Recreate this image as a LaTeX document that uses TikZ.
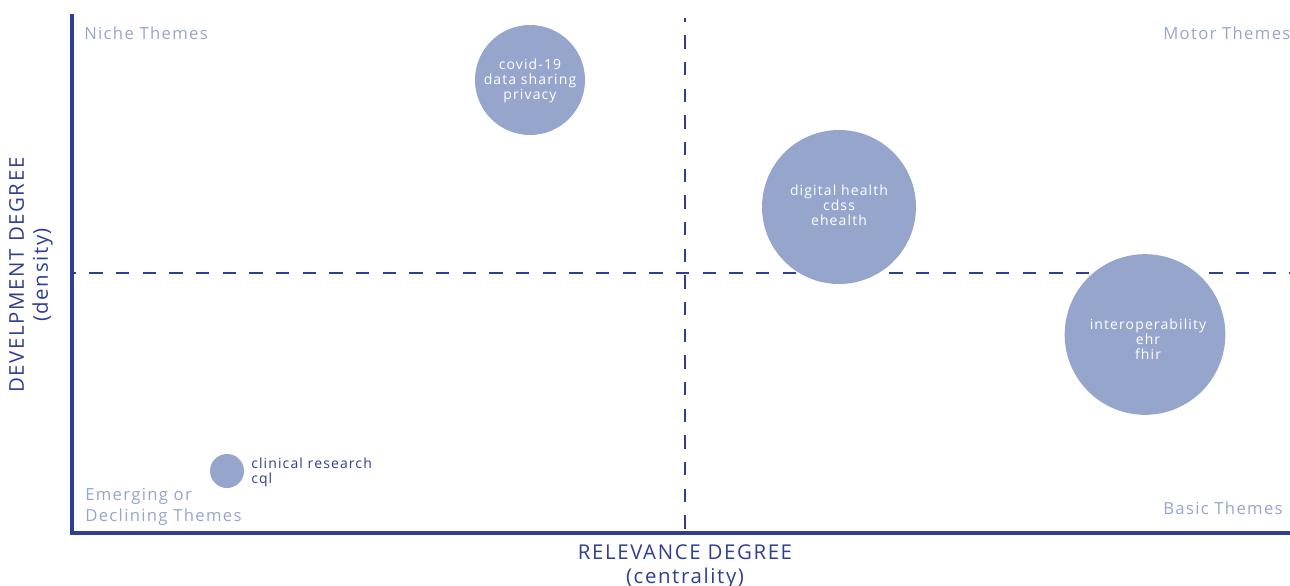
\documentclass[tikz,border=0pt]{standalone}
\usepackage{fontspec}
\setmainfont{Open Sans}[LetterSpace=8]
\definecolor{axisblue}{RGB}{48,62,145}
\definecolor{bubblefill}{RGB}{150,165,204}
\definecolor{labelblue}{RGB}{150,165,204}
\begin{document}
\begin{tikzpicture}[x=0.75pt,y=-0.75pt,
  axisline/.style={draw=axisblue,line width=2.4pt},
  quadline/.style={draw=axisblue,line width=2.1pt,dash pattern=on 10pt off 10pt,dash phase=7pt},
  bubble/.style={circle,fill=bubblefill,inner sep=0pt},
  bubbletext/.style={text=white,align=center,inner sep=0pt,font=\fontsize{10.5}{11.3}\selectfont},
  quadlabel/.style={text=labelblue,font=\fontsize{12.5}{16}\selectfont,inner sep=0pt},
  axistitle/.style={text=axisblue,align=center,font=\fontsize{15.3}{18}\selectfont,inner sep=0pt}]
\useasboundingbox (0,0) rectangle (1290,586);
\coordinate (o) at (72,533);
\coordinate (top) at (72,14);
\coordinate (right) at (1290,533);
\coordinate (vt) at (685,18);
\coordinate (vb) at (685,533);
\coordinate (hl) at (72,273);
\coordinate (hr) at (1290,273);
\draw[quadline] (vt) -- (vb);
\draw[quadline] (hl) -- (hr);
\draw[axisline] (top) -- (o) -- (right);
\node[bubble,minimum size=82.5pt] (covid) at (530,80) {};
\node[bubbletext] (covidtext) at (530,81) {covid-19\\data sharing\\privacy};
\node[bubble,minimum size=115.5pt] (digital) at (839,207) {};
\node[bubbletext] (digitaltext) at (839,205) {digital health\\cdss\\ehealth};
\node[bubble,minimum size=120.5pt] (interop) at (1145,334.5) {};
\node[bubbletext] (interoptext) at (1148,339) {interoperability\\ehr\\fhir};
\node[bubble,minimum size=25.5pt] (clin) at (227,471) {};
\node[anchor=west,text=axisblue,align=left,inner sep=0pt,font=\fontsize{10.5}{11.3}\selectfont] (clintext) at (251,472) {clinical research\\cql};
\node[quadlabel,anchor=west] (niche) at (84,33) {Niche Themes};
\node[quadlabel,anchor=west] (motor) at (1163,33) {Motor Themes};
\node[quadlabel,anchor=west] (basic) at (1163,508) {Basic Themes};
\node[quadlabel,anchor=west,align=left] (emerg) at (85,507) {Emerging or\\Declining Themes};
\node[axistitle] (xtitle) at (685,566.5) {RELEVANCE DEGREE\\(centrality)};
\node[axistitle,rotate=90] (ytitle) at (31,275) {DEVELPMENT DEGREE\\(density)};
\end{tikzpicture}
\end{document}
